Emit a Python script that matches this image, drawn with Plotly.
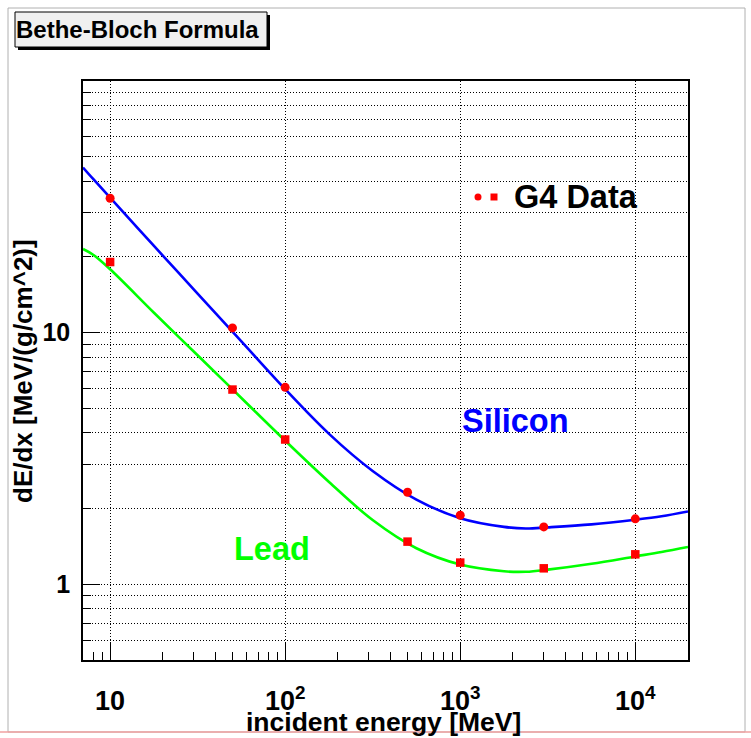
import plotly.graph_objects as go

# ---- data ----
curve_energy = [7, 8, 10, 17.8, 31.6, 56.2, 100, 178, 316, 562, 1000, 1778, 2371, 3162, 5623, 10000, 14125, 20000]
silicon_curve = [45.3, 40.8, 34.4, 22.1, 14.3, 9.23, 5.96, 3.96, 2.82, 2.17, 1.83, 1.69, 1.665, 1.683, 1.73, 1.805, 1.862, 1.945]
lead_curve = [21.5, 20.4, 17.86, 12.0, 8.13, 5.5, 3.72, 2.55, 1.80, 1.39, 1.197, 1.126, 1.121, 1.143, 1.206, 1.29, 1.343, 1.406]

g4_energy = [10, 50, 100, 500, 1000, 3000, 10000]
g4_silicon = [34.2, 10.44, 6.06, 2.32, 1.88, 1.69, 1.82]
g4_lead = [19.08, 5.94, 3.76, 1.477, 1.219, 1.157, 1.315]

x_tickvals = [10, 100, 1000, 10000]
x_ticktext = ["10", "10<sup>2</sup>", "10<sup>3</sup>", "10<sup>4</sup>"]
y_tickvals = [1, 10]
y_ticktext = ["1", "10"]

W, H = 751, 738
L, R, T, B = 83, 688, 81, 660
PW, PH = R - L, B - T

def px(x):
    return (x - L) / PW

def py(y):
    return (B - y) / PH

FONT = "Liberation Sans, Arial, Helvetica, sans-serif"

fig = go.Figure()
fig.add_trace(go.Scatter(x=curve_energy, y=silicon_curve, mode="lines",
                         line=dict(color="rgb(0,0,255)", width=2.6, shape="spline", smoothing=1.0),
                         showlegend=False, hoverinfo="skip"))
fig.add_trace(go.Scatter(x=curve_energy, y=lead_curve, mode="lines",
                         line=dict(color="rgb(0,255,0)", width=2.6, shape="spline", smoothing=1.0),
                         showlegend=False, hoverinfo="skip"))
fig.add_trace(go.Scatter(x=g4_energy, y=g4_silicon, mode="markers",
                         marker=dict(symbol="circle", size=9, color="rgb(255,0,0)", line=dict(width=0)),
                         showlegend=False))
fig.add_trace(go.Scatter(x=g4_energy, y=g4_lead, mode="markers",
                         marker=dict(symbol="square", size=8.5, color="rgb(255,0,0)", line=dict(width=0)),
                         showlegend=False))

minor_x = [8, 9] + [k * 10 for k in range(2, 10)] + [k * 100 for k in range(2, 10)] + [k * 1000 for k in range(2, 10)]
minor_y = [0.6, 0.7, 0.8, 0.9] + list(range(2, 10)) + [k * 10 for k in range(2, 10)]

fig.update_xaxes(type="log", range=[0.8451, 4.30103], tickvals=x_tickvals, ticktext=x_ticktext,
                 ticks="inside", ticklen=17, tickwidth=1, tickcolor="black",
                 showline=True, linecolor="black", linewidth=1.5, mirror=True,
                 showgrid=True, gridcolor="black", gridwidth=1, griddash="1px,2px",
                 zeroline=False, ticklabelstandoff=16,
                 tickfont=dict(family=FONT, size=27, color="black", weight="bold"),
                 minor=dict(tickvals=minor_x, ticks="inside", ticklen=8, tickcolor="black", showgrid=False))
fig.update_yaxes(type="log", range=[-0.30103, 2.0], tickvals=y_tickvals, ticktext=y_ticktext,
                 ticks="inside", ticklen=17, tickwidth=1, tickcolor="black",
                 showline=True, linecolor="black", linewidth=1.5, mirror=True,
                 showgrid=True, gridcolor="black", gridwidth=1, griddash="1px,2px",
                 zeroline=False, ticklabelstandoff=6,
                 tickfont=dict(family=FONT, size=25, color="black", weight="bold"),
                 minor=dict(tickvals=minor_y, ticks="inside", ticklen=8, tickcolor="black",
                            showgrid=True, gridcolor="black", gridwidth=1, griddash="1px,2px"))

shapes = [
    # canvas border
    dict(type="rect", xref="paper", yref="paper", x0=px(8), x1=px(745), y0=py(732), y1=py(8),
         line=dict(color="#b0b0b0", width=1), layer="below"),
    dict(type="line", xref="paper", yref="paper", x0=px(0), x1=px(751), y0=py(732), y1=py(732),
         line=dict(color="#f0a0a0", width=1.5)),
    # title box shadow and box
    dict(type="rect", xref="paper", yref="paper", x0=px(18), x1=px(270), y0=py(50), y1=py(15),
         fillcolor="black", line=dict(width=0)),
    dict(type="rect", xref="paper", yref="paper", x0=px(15), x1=px(267), y0=py(47), y1=py(12),
         fillcolor="#f0f0f0", line=dict(color="black", width=1)),
    # legend markers
    dict(type="circle", xref="paper", yref="paper", x0=px(474.5), x1=px(481.5), y0=py(200.5), y1=py(193.5),
         fillcolor="rgb(255,0,0)", line=dict(width=0)),
    dict(type="rect", xref="paper", yref="paper", x0=px(490.5), x1=px(497.5), y0=py(200.5), y1=py(193.5),
         fillcolor="rgb(255,0,0)", line=dict(width=0)),
]

annotations = [
    dict(text="Bethe-Bloch Formula", x=px(137), y=py(30), xref="paper", yref="paper", showarrow=False,
         font=dict(family=FONT, size=24, color="black", weight="bold"), xanchor="center", yanchor="middle"),
    dict(text="incident energy [MeV]", x=px(383), y=py(722), xref="paper", yref="paper", showarrow=False,
         font=dict(family=FONT, size=26.5, color="black", weight="bold"), xanchor="center", yanchor="middle"),
    dict(text="dE/dx [MeV/(g/cm^2)]", x=px(23), y=py(371), xref="paper", yref="paper", showarrow=False,
         textangle=-90, font=dict(family=FONT, size=26, color="black", weight="bold"),
         xanchor="center", yanchor="middle"),
    dict(text="G4 Data", x=px(512), y=py(197), xref="paper", yref="paper", showarrow=False,
         font=dict(family=FONT, size=32.5, color="black", weight="bold"), xanchor="left", yanchor="middle"),
    dict(text="Silicon", x=px(515), y=py(421), xref="paper", yref="paper", showarrow=False,
         font=dict(family=FONT, size=32.5, color="rgb(0,0,255)", weight="bold"), xanchor="center", yanchor="middle"),
    dict(text="Lead", x=px(272), y=py(549), xref="paper", yref="paper", showarrow=False,
         font=dict(family=FONT, size=32.5, color="rgb(0,255,0)", weight="bold"), xanchor="center", yanchor="middle"),
]

fig.update_layout(width=W, height=H, margin=dict(l=L, r=W - R, t=T, b=H - B, pad=0),
                  paper_bgcolor="white", plot_bgcolor="white",
                  shapes=shapes, annotations=annotations, showlegend=False)

fig.write_html("out.html")
